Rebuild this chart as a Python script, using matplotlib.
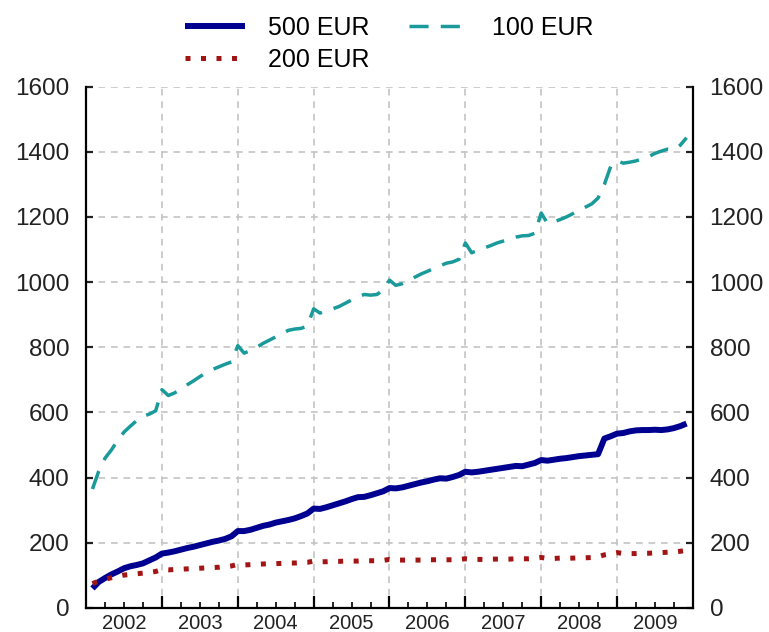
import numpy as np
import matplotlib.pyplot as plt
from matplotlib.ticker import MultipleLocator, FixedLocator, FuncFormatter

plt.rcParams['font.family'] = ['Liberation Sans', 'DejaVu Sans']

# monthly values (EUR bn), Jan 2002 .. Nov 2009
eur500 = [
    60, 80, 92, 103, 112, 122, 128, 132, 137, 146, 155, 167,      # 2002
    170, 174, 179, 184, 188, 193, 198, 203, 207, 212, 220, 236,   # 2003
    236, 240, 246, 252, 256, 262, 266, 270, 275, 282, 290, 305,   # 2004
    304, 309, 315, 321, 327, 334, 340, 341, 346, 352, 358, 368,   # 2005
    367, 370, 375, 380, 385, 389, 394, 398, 397, 402, 408, 418,   # 2006
    416, 418, 421, 424, 427, 430, 433, 436, 435, 440, 445, 454,   # 2007
    452, 455, 458, 460, 463, 466, 468, 470, 472, 520, 527, 535,   # 2008
    537, 542, 545, 546, 546, 547, 546, 548, 552, 558, 566,        # 2009
]
eur200 = [
    75, 82, 88, 93, 97, 101, 103, 105, 107, 109, 112, 118,
    117, 118, 119, 120, 121, 122, 123, 124, 125, 127, 129, 134,
    132, 133, 134, 135, 136, 136, 137, 138, 138, 139, 140, 144,
    142, 142, 143, 143, 144, 144, 144, 145, 145, 145, 146, 149,
    147, 147, 147, 147, 147, 148, 148, 148, 148, 148, 149, 151,
    149, 149, 149, 150, 150, 150, 150, 151, 151, 151, 152, 155,
    152, 152, 153, 153, 153, 154, 154, 155, 157, 163, 166, 170,
    167, 167, 167, 168, 168, 169, 170, 171, 172, 174, 177,
]
eur100 = [
    365, 420, 460, 485, 515, 540, 558, 575, 588, 595, 605, 670,
    652, 660, 672, 685, 697, 710, 722, 732, 740, 748, 755, 805,
    782, 790, 800, 812, 822, 832, 842, 852, 856, 858, 865, 918,
    905, 912, 918, 925, 935, 945, 955, 962, 960, 962, 975, 1006,
    990, 995, 1005, 1015, 1025, 1033, 1042, 1050, 1058, 1062, 1070, 1120,
    1090, 1098, 1105, 1112, 1120, 1126, 1132, 1138, 1142, 1143, 1150, 1212,
    1180, 1185, 1192, 1200, 1210, 1220, 1230, 1240, 1258, 1300, 1355, 1372,
    1365, 1368, 1372, 1378, 1385, 1395, 1402, 1408, 1406, 1420, 1443,
]
year_labels = ['2002', '2003', '2004', '2005', '2006', '2007', '2008', '2009']

# month-end positions in decimal years
t = 2002 + np.arange(1, len(eur500) + 1) / 12.0

fig = plt.figure(figsize=(7.69, 6.32), dpi=100)
ax = fig.add_axes([0.112, 0.038, 0.789, 0.825])

ax.plot(t, eur500, color='#000090', lw=4.3, label='500 EUR', solid_capstyle='butt')
ax.plot(t, eur200, color='#a31515', lw=3.6, linestyle=(0, (1, 2.1)), label='200 EUR')
ax.plot(t, eur100, color='#1a9a9a', lw=2.5, linestyle=(0, (5.5, 3.5)), label='100 EUR')

ax.set_xlim(2002, 2010)
ax.set_ylim(0, 1600)

ax.yaxis.set_major_locator(MultipleLocator(200))
ax.xaxis.set_major_locator(FixedLocator(np.arange(2003, 2010)))
ax.xaxis.set_minor_locator(FixedLocator(np.arange(2002.25, 2010, 0.25)))
ax.xaxis.set_major_formatter(FuncFormatter(lambda v, p: ''))


def year_fmt(v, p):
    if abs(v - round(v - 0.5) - 0.5) < 1e-6:
        return year_labels[int(round(v - 0.5)) - 2002]
    return ''


ax.xaxis.set_minor_formatter(FuncFormatter(year_fmt))

ax.grid(True, which='major', color='#c4c4c4', lw=1.2, linestyle=(0, (4, 3.5)))
ax.set_axisbelow(True)

for s in ['left', 'right', 'bottom']:
    ax.spines[s].set_linewidth(1.6)
ax.spines['top'].set_visible(False)

ax.tick_params(axis='y', which='major', direction='in', length=5, width=1.6,
               left=True, right=True, labelleft=True, labelright=True,
               labelsize=17.5, pad=12, colors='#222222')
ax.tick_params(axis='x', which='major', direction='in', length=9, width=1.6)
ax.tick_params(axis='x', which='minor', direction='in', length=4, width=1.4,
               labelsize=14.5, pad=4, colors='#222222')

ax.legend(loc='lower center', bbox_to_anchor=(0.5, 1.0), ncol=2, frameon=False,
          fontsize=18, handlelength=2.4, handletextpad=0.9, columnspacing=1.6,
          labelspacing=0.3, borderaxespad=0.2)

fig.savefig('out.png', dpi=100)
